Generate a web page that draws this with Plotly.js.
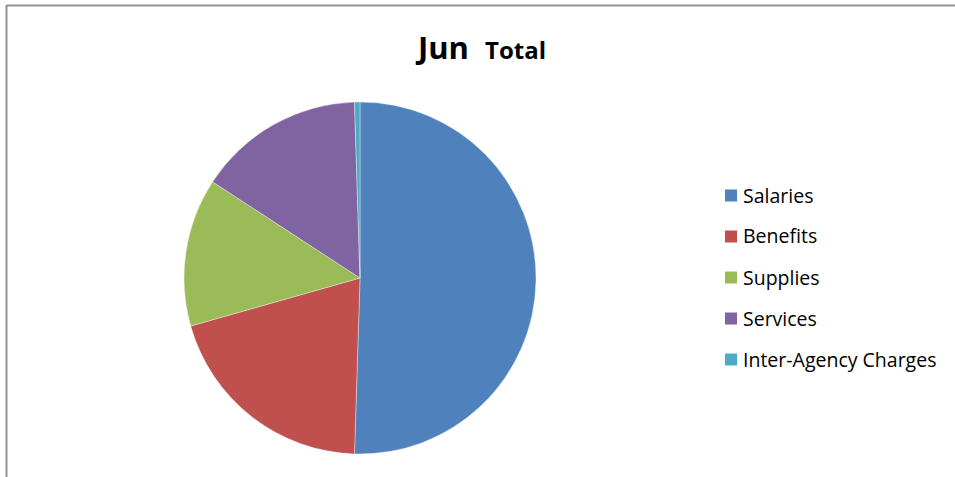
<!DOCTYPE html>
<html>
<head>
<meta charset="utf-8">
<script src="https://cdn.plot.ly/plotly-3.0.1.min.js"></script>
<style>html,body{margin:0;padding:0;background:#fff;}#chart{width:955px;height:477px;}</style>
</head>
<body>
<div id="chart"></div>
<script>
// Data
var categories = ["Salaries", "Benefits", "Supplies", "Services", "Inter-Agency Charges"];
var values = [50.5, 20.1, 13.6, 15.3, 0.5];
var colors = ["#4F81BD", "#C0504D", "#9BBB59", "#8064A2", "#4BACC6"];
var titleMain = "Jun";
var titleSub = "Total";

var W = 955, H = 477;
var FONT = "Open Sans, Noto Sans, sans-serif";

var trace = {
  type: "pie",
  labels: categories,
  values: values,
  sort: false,
  direction: "clockwise",
  rotation: 0,
  marker: { colors: colors, line: { color: "rgba(255,255,255,0.6)", width: 0.6 } },
  textinfo: "none",
  hoverinfo: "label+percent",
  showlegend: false,
  domain: { x: [(360 - 176) / W, (360 + 176) / W], y: [(H - 278 - 176) / H, (H - 278 + 176) / H] }
};

// Custom legend built from categories / colors
var shapes = [
  { type: "line", xref: "paper", yref: "paper", x0: 6.5 / W, x1: 1, y0: 1 - 5.5 / H, y1: 1 - 5.5 / H, line: { color: "#939393", width: 2 } },
  { type: "line", xref: "paper", yref: "paper", x0: 6.5 / W, x1: 6.5 / W, y0: 0, y1: 1 - 5 / H, line: { color: "#939393", width: 2 } }
];
var annotations = [];
var legX = 725, legY0 = 195.5, legGap = 41, sq = 12;
categories.forEach(function (c, i) {
  var cy = legY0 + i * legGap;
  shapes.push({
    type: "rect", xref: "paper", yref: "paper",
    x0: legX / W, x1: (legX + sq) / W,
    y0: 1 - (cy + sq / 2) / H, y1: 1 - (cy - sq / 2) / H,
    fillcolor: colors[i], line: { width: 0 }
  });
  annotations.push({
    xref: "paper", yref: "paper", x: (legX + 16) / W, y: 1 - (cy - 0.5) / H,
    xanchor: "left", yanchor: "middle", showarrow: false, text: c,
    font: { family: FONT, size: 19.5, color: "#000" }
  });
});

var layout = {
  width: W, height: H,
  margin: { l: 0, r: 0, t: 0, b: 0 },
  paper_bgcolor: "#fff",
  title: {
    text: "<b>" + titleMain + "&nbsp; <span style=\"font-size:24px\">" + titleSub + "</span></b>",
    font: { family: FONT, size: 31, color: "#000" },
    x: 482 / W, xanchor: "center", xref: "paper",
    y: 1 - 48 / H, yanchor: "middle", yref: "container"
  },
  shapes: shapes,
  annotations: annotations
};

Plotly.newPlot("chart", [trace], layout, { displayModeBar: false, staticPlot: true });
</script>
</body>
</html>
